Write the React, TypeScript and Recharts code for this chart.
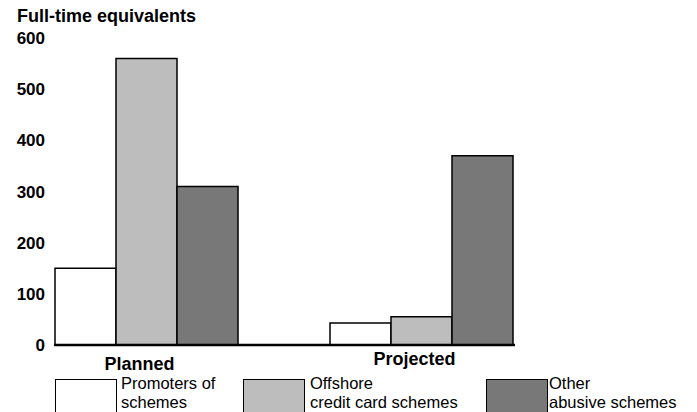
import React from 'react';
import { BarChart, Bar, XAxis, YAxis } from 'recharts';

const categories = ['Planned', 'Projected'];
const promoters = [150, 43];
const offshore = [560, 55];
const otherAbusive = [310, 370];
const yTicks = [0, 100, 200, 300, 400, 500, 600];

const data = categories.map((name, i) => ({
  name,
  promoters: promoters[i],
  offshore: offshore[i],
  other: otherAbusive[i],
}));

const legendItems = [
  { lines: ['Promoters of', 'schemes'], fill: '#ffffff', left: 55, textLeft: 121 },
  { lines: ['Offshore', 'credit card schemes'], fill: '#bdbdbd', left: 243, textLeft: 310 },
  { lines: ['Other', 'abusive schemes'], fill: '#787878', left: 486, textLeft: 549 },
];

const font = '"Liberation Sans", Arial, Helvetica, sans-serif';

function CategoryTick(props: any) {
  const { x, y, payload, index } = props;
  const dy = index === 0 ? 17 : 12;
  return (
    <text
      x={x - 7}
      y={y + dy}
      textAnchor="middle"
      fontFamily={font}
      fontWeight="bold"
      fontSize={18}
      fill="#000"
    >
      {payload.value}
    </text>
  );
}

export default function App() {
  return (
    <div
      style={{
        position: 'absolute',
        left: 0,
        top: 0,
        width: 697,
        height: 412,
        background: '#fff',
        overflow: 'hidden',
        fontFamily: font,
      }}
    >
      <div
        style={{
          position: 'absolute',
          left: 17,
          top: 6,
          fontSize: 18,
          fontWeight: 'bold',
          color: '#000',
          lineHeight: '20px',
        }}
      >
        Full-time equivalents
      </div>
      <BarChart
        width={697}
        height={412}
        data={data}
        margin={{ top: 38, right: 182, bottom: 37, left: 0 }}
        barGap={0}
        barSize={61}
      >
        <YAxis
          width={54}
          domain={[0, 600]}
          ticks={yTicks}
          axisLine={false}
          tickLine={false}
          tickSize={0}
          tickMargin={9}
          tick={{ fill: '#000', fontSize: 17, fontWeight: 'bold', fontFamily: font }}
        />
        <XAxis
          dataKey="name"
          height={30}
          padding={{ left: -45, right: -44 }}
          axisLine={{ stroke: '#000', strokeWidth: 2.5 }}
          tickLine={false}
          tick={<CategoryTick />}
          interval={0}
        />
        <Bar dataKey="promoters" fill="#ffffff" stroke="#000" strokeWidth={1.5} isAnimationActive={false} />
        <Bar dataKey="offshore" fill="#bdbdbd" stroke="#000" strokeWidth={1.5} isAnimationActive={false} />
        <Bar dataKey="other" fill="#787878" stroke="#000" strokeWidth={1.5} isAnimationActive={false} />
      </BarChart>
      {legendItems.map((item) => (
        <React.Fragment key={item.lines[0]}>
          <div
            style={{
              position: 'absolute',
              left: item.left,
              top: 379,
              width: 62,
              height: 40,
              background: item.fill,
              border: '1.5px solid #000',
              boxSizing: 'border-box',
            }}
          />
          <div
            style={{
              position: 'absolute',
              left: item.textLeft,
              top: 374,
              fontSize: 16.5,
              lineHeight: '19px',
              color: '#000',
            }}
          >
            {item.lines.map((l) => (
              <div key={l}>{l}</div>
            ))}
          </div>
        </React.Fragment>
      ))}
    </div>
  );
}
